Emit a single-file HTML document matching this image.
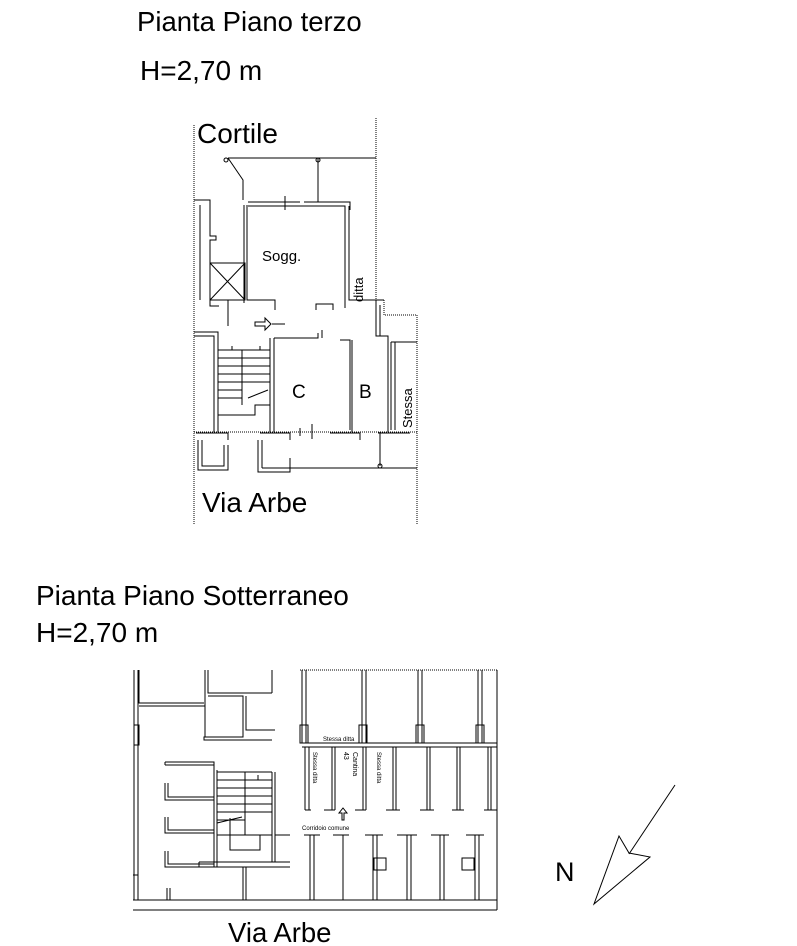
<!DOCTYPE html>
<html><head><meta charset="utf-8"><style>
html,body{margin:0;padding:0;background:#fff;}
svg{display:block;font-family:"Liberation Sans",sans-serif;}
</style></head><body>
<svg width="797" height="946" viewBox="0 0 797 946" xmlns="http://www.w3.org/2000/svg">
<g font-family="Liberation Sans, sans-serif" fill="#000">
<text x="137" y="31" font-size="27.5">Pianta Piano terzo</text>
<text x="140" y="80" font-size="28">H=2,70 m</text>
<text x="197" y="143" font-size="28">Cortile</text>
<text x="202" y="512" font-size="28">Via Arbe</text>
<text x="262" y="261" font-size="15">Sogg.</text>
<text x="292" y="398" font-size="19">C</text>
<text x="359" y="398" font-size="19">B</text>
<text transform="translate(363,302) rotate(-90)" font-size="13">ditta</text>
<text transform="translate(412,428) rotate(-90)" font-size="13">Stessa</text>
<text x="36" y="605" font-size="28">Pianta Piano Sotterraneo</text>
<text x="36" y="642" font-size="28">H=2,70 m</text>
<text x="228" y="942" font-size="27.5">Via Arbe</text>
<text x="555" y="881" font-size="27">N</text>
<text x="323" y="741" font-size="6">Stessa ditta</text>
<text transform="translate(313,752) rotate(90)" font-size="6">Stessa ditta</text>
<text transform="translate(353,752) rotate(90)" font-size="7">Cantina</text>
<text transform="translate(344,752) rotate(90)" font-size="7">43</text>
<text transform="translate(377,752) rotate(90)" font-size="6">Stessa ditta</text>
<text x="302" y="830" font-size="6">Corridoio comune</text>
</g>
<g fill="none" stroke="#000" stroke-width="1">
<path d="M194,125V525" stroke-dasharray="1,1"/>
<path d="M376,118V300H384V315H417V525" stroke-dasharray="1,1"/>
<path d="M194,432H417" stroke-dasharray="1,1"/>
<path d="M228,158H376M318,158V200M228,158L243,180V200"/>
<circle cx="226" cy="160" r="2"/><circle cx="318" cy="160" r="2"/><circle cx="380" cy="466" r="2"/>
<path d="M248,202H300M304,202H350V210M318,200V202M285,196V210"/>
<path d="M248,206H345V308M349,206V300H384"/>
<path d="M247,205V300H275V310M244,205V303"/>
<path d="M316,310V304H333V310"/>
<path d="M194,200H210V236H216V240H210V306H219M200,205V300"/>
<rect x="210" y="263" width="35" height="37"/><path d="M210,263L245,300M245,263L210,300"/>
<path d="M228,300V326"/>
<path d="M255,322h10v-4l6,6l-6,6v-4h-10z M272,324H285"/>
<path d="M270,338V432M274,338H318V333M322,338V330"/>
<path d="M274,338V432M340,340H350V430M352,340V432"/>
<path d="M376,300V336H388V432M380,305V336M391,342H417M391,342V430M395,342V430"/>
<path d="M300,428V436M312,424V439"/>
<path d="M196,433H228V440M260,433H290V440M330,433H360V440M378,433H410"/>
<path d="M194,332H218V432M194,336H214V432"/>
<path d="M218,350H270M218,350V415H255V405H270V350M242,350V405"/>
<path d="M218,358H270M218,366H270M218,374H270M218,382H270M218,390H242M218,398H242"/>
<path d="M248,398L268,390M232,346V350M260,346V350"/>
<path d="M198,440V470H228V445M202,440V466H224V445"/>
<path d="M258,440V472H290V458M262,440V468M262,468H417"/>
<path d="M380,432V466"/>
<path d="M300,670H497" stroke-dasharray="1,1"/>
<path d="M134,670V900M138,670V900M497,670V910M133,900H497M133,910H497"/>
<path d="M139,670V703H204M139,706H205V670M208,670V693H272M205,696V737M208,696H243V737H204V740H272M246,696V730H275M272,670V693"/>
<path d="M134,725h5v20h-5"/>
<path d="M302,670V743M306,670V743M362,670V743M366,670V743M418,670V743M422,670V743M478,670V743M482,670V743M302,743H497M302,747H497"/>
<rect x="300" y="725" width="8" height="18"/><rect x="359" y="725" width="8" height="18"/><rect x="416" y="725" width="8" height="18"/><rect x="476" y="725" width="8" height="18"/>
<path d="M305,747V810M309,747V810M332,747V810M335,747V810M363,747V810M366,747V810M393,747V810M396,747V810M427,747V810M430,747V810M457,747V810M460,747V810M488,747V810M491,747V810"/>
<path d="M305,810H311M324,810H335M355,810H366M386,810H400M420,810H434M452,810H464M484,810H497"/>
<path d="M342,820v-7h-3l4,-5l4,5h-3v7z"/>
<path d="M310,835V900M314,835V900M343,835V900M373,835V900M377,835V900M407,835V900M411,835V900M440,835V900M444,835V900M475,835V900M479,835V900"/>
<path d="M304,835h16M333,835h16M365,835h18M397,835h20M431,835h18M466,835h18"/>
<rect x="374" y="858" width="12" height="12"/><rect x="462" y="858" width="12" height="12"/>
<path d="M165,762H214V770M165,765H214M165,762V765"/>
<path d="M165,783V800H214M168,783V797H214"/>
<path d="M165,817V833H214M168,817V830H214"/>
<path d="M165,851V867H214M168,851V864H214"/>
<path d="M214,770V867M217,770V867"/>
<path d="M217,772H272M217,772V835H272V772M245,772V835"/>
<path d="M217,780H272M217,788H272M217,796H272M217,804H272M217,812H272M217,820H245"/>
<path d="M217,823L242,817M230,818V850H260V835M258,775V780"/>
<path d="M272,772V862M275,772V862M275,835H290M199,862H290M199,867H290M199,862V867"/>
<path d="M243,867V900M246,867V900M167,888V900M170,888V900"/>
<path d="M133,875h5"/>
</g>
<g stroke="#000" fill="none" stroke-width="1">
<path d="M675,785L629,854"/>
<path d="M594,904L619,836L629,853L650,857Z"/>
</g>
</svg>
</body></html>
